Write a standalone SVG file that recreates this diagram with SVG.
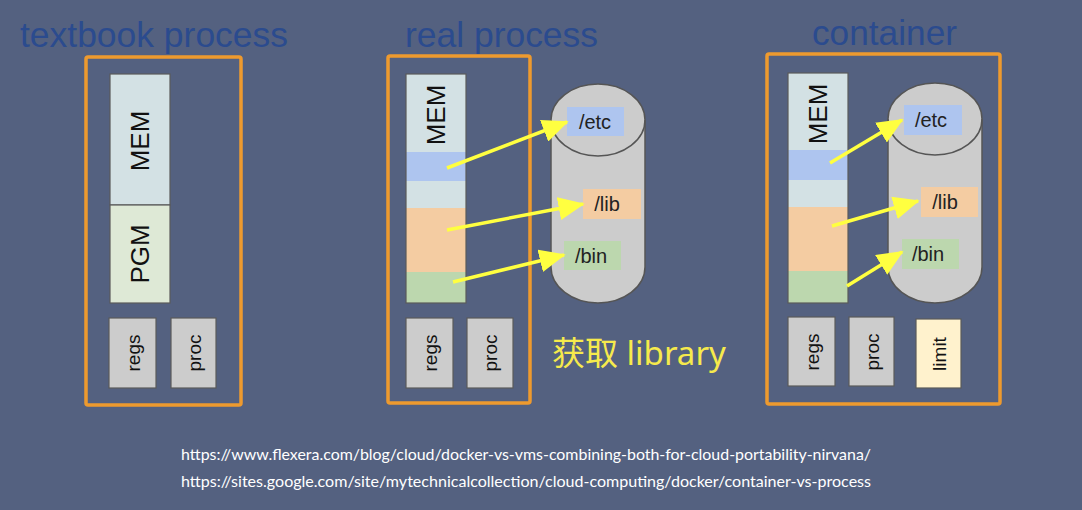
<svg xmlns="http://www.w3.org/2000/svg" width="1082" height="510" viewBox="0 0 1082 510">
<defs>
<style>
.title{font-family:"Liberation Sans",Arial,sans-serif;font-size:35px;fill:#2b4b8e}
.frame{fill:none;stroke:#ee9a2e;stroke-width:3.5}
.box{stroke:#5a5a5a;stroke-width:1.2}
.mem{fill:#d3e1e4}
.pgm{fill:#dee9d6}
.blue{fill:#aec5ef}
.peach{fill:#f4cca2}
.green{fill:#bcd7ae}
.gray{fill:#cccccc}
.limit{fill:#fff2cd}
.lbl{font-family:"Liberation Sans",Arial,sans-serif;fill:#111;text-anchor:middle;dominant-baseline:central}
.big{font-size:26px}
.sm{font-size:19px}
.dir{font-family:"Liberation Sans",Arial,sans-serif;font-size:20px;fill:#222;text-anchor:middle;dominant-baseline:central}
.cyl{fill:#cccccc;stroke:#555;stroke-width:1.5}
.arr{stroke:#ffff40;stroke-width:3.5;fill:none}
.url{font-family:Lato,"Open Sans",sans-serif;font-size:15px;fill:#ffffff}
</style>
<marker id="ah" markerWidth="7.5" markerHeight="6.6" refX="7" refY="3.3" orient="auto" markerUnits="strokeWidth">
<path d="M0,0 L7.5,3.3 L0,6.6 Z" fill="#ffff40"/>
</marker>
</defs>
<rect width="1082" height="510" fill="#546180"/>

<g id="textbook">
<text class="title" x="20" y="47" textLength="268" lengthAdjust="spacingAndGlyphs">textbook process</text>
<rect class="frame" x="86" y="57" width="155" height="348" rx="2"/>
<g id="tb-mem"><rect class="box mem" x="110" y="74" width="60" height="131"/>
<text class="lbl big" transform="translate(140,141) rotate(-90)">MEM</text></g>
<g id="tb-pgm"><rect class="box pgm" x="110" y="205" width="60" height="98"/>
<text class="lbl big" transform="translate(140,254) rotate(-90)">PGM</text></g>
<g id="tb-regs"><rect class="box gray" x="109" y="318" width="47" height="70"/>
<text class="lbl sm" transform="translate(133,353) rotate(-90)">regs</text></g>
<g id="tb-proc"><rect class="box gray" x="171" y="318" width="45" height="70"/>
<text class="lbl sm" transform="translate(194,353) rotate(-90)">proc</text></g>
</g>

<g id="real">
<text class="title" x="405" y="47" textLength="193" lengthAdjust="spacingAndGlyphs">real process</text>
<rect class="frame" x="388" y="56" width="142" height="347" rx="2"/>
<g id="rp-mem">
<rect class="mem" x="406" y="74" width="60" height="78"/>
<rect class="blue" x="406" y="152" width="60" height="29"/>
<rect class="mem" x="406" y="181" width="60" height="27"/>
<rect class="peach" x="406" y="208" width="60" height="64"/>
<rect class="green" x="406" y="272" width="60" height="31"/>
<rect x="406" y="74" width="60" height="229" fill="none" stroke="#5a5a5a" stroke-width="1.2"/>
<text class="lbl big" transform="translate(436,115) rotate(-90)">MEM</text>
</g>
<g id="rp-regs"><rect class="box gray" x="406" y="318" width="47" height="70"/>
<text class="lbl sm" transform="translate(430,353) rotate(-90)">regs</text></g>
<g id="rp-proc"><rect class="box gray" x="467" y="318" width="46" height="70"/>
<text class="lbl sm" transform="translate(490,353) rotate(-90)">proc</text></g>
<g id="rp-disk">
<path class="cyl" d="M551,120 A47,36 0 0 1 645,120 L645,267 A47,36 0 0 1 551,267 Z"/>
<path d="M551,120 A47,36 0 0 0 645,120" fill="none" stroke="#555" stroke-width="1.5"/>
<rect class="blue" x="567" y="107" width="57" height="29"/>
<text class="dir" x="595" y="122">/etc</text>
<rect class="peach" x="583" y="189" width="58" height="30"/>
<text class="dir" x="607" y="204">/lib</text>
<rect class="green" x="564" y="241" width="57" height="29"/>
<text class="dir" x="591" y="256">/bin</text>
</g>
</g>

<g id="container">
<text class="title" x="812" y="45" textLength="145" lengthAdjust="spacingAndGlyphs">container</text>
<rect class="frame" x="767" y="54" width="233" height="350" rx="2"/>
<g id="ct-mem">
<rect class="mem" x="788" y="73" width="60" height="77"/>
<rect class="blue" x="788" y="150" width="60" height="30"/>
<rect class="mem" x="788" y="180" width="60" height="27"/>
<rect class="peach" x="788" y="207" width="60" height="64"/>
<rect class="green" x="788" y="271" width="60" height="32"/>
<rect x="788" y="73" width="60" height="230" fill="none" stroke="#5a5a5a" stroke-width="1.2"/>
<text class="lbl big" transform="translate(818,114) rotate(-90)">MEM</text>
</g>
<g id="ct-regs"><rect class="box gray" x="788" y="317" width="47" height="69"/>
<text class="lbl sm" transform="translate(812,352) rotate(-90)">regs</text></g>
<g id="ct-proc"><rect class="box gray" x="849" y="317" width="45" height="69"/>
<text class="lbl sm" transform="translate(872,352) rotate(-90)">proc</text></g>
<g id="ct-limit"><rect class="box limit" x="916" y="319" width="45" height="69"/>
<text class="lbl sm" transform="translate(939,354) rotate(-90)">limit</text></g>
<g id="ct-disk">
<path class="cyl" d="M888,119 A47,36 0 0 1 982,119 L982,267 A47,36 0 0 1 888,267 Z"/>
<path d="M888,119 A47,36 0 0 0 982,119" fill="none" stroke="#555" stroke-width="1.5"/>
<rect class="blue" x="904" y="105" width="58" height="30"/>
<text class="dir" x="931" y="120">/etc</text>
<rect class="peach" x="921" y="187" width="57" height="30"/>
<text class="dir" x="945" y="202">/lib</text>
<rect class="green" x="902" y="239" width="57" height="30"/>
<text class="dir" x="928" y="254">/bin</text>
</g>
</g>

<g id="connectors">
<line class="arr" x1="447" y1="168" x2="567" y2="122" marker-end="url(#ah)"/>
<line class="arr" x1="447" y1="230" x2="583" y2="204" marker-end="url(#ah)"/>
<line class="arr" x1="453" y1="282" x2="564" y2="255" marker-end="url(#ah)"/>
<line class="arr" x1="830" y1="163" x2="902" y2="120" marker-end="url(#ah)"/>
<line class="arr" x1="832" y1="226" x2="918" y2="201" marker-end="url(#ah)"/>
<line class="arr" x1="847" y1="286" x2="902" y2="252" marker-end="url(#ah)"/>
</g>

<text x="552" y="365" font-family="'Noto Sans','Noto Sans CJK SC',sans-serif" font-size="33" fill="#f6ea4c">获取 library</text>

<text class="url" x="181" y="460" textLength="690" lengthAdjust="spacingAndGlyphs">https://www.flexera.com/blog/cloud/docker-vs-vms-combining-both-for-cloud-portability-nirvana/</text>
<text class="url" x="181" y="487" textLength="690" lengthAdjust="spacingAndGlyphs">https://sites.google.com/site/mytechnicalcollection/cloud-computing/docker/container-vs-process</text>
</svg>
